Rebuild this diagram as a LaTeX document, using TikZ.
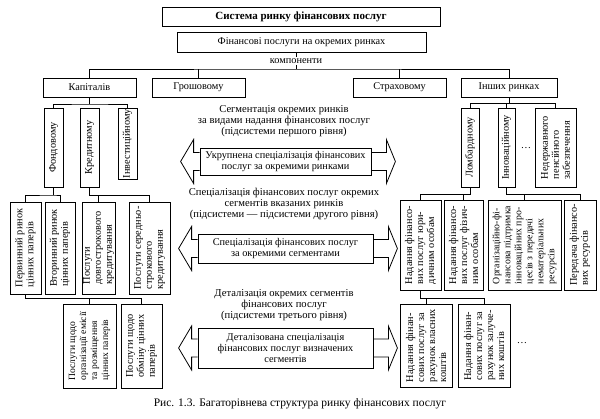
\documentclass[tikz,border=0pt]{standalone}
\usepackage{fontspec}
\setmainfont{Liberation Serif}

\begin{document}
\begin{tikzpicture}[x=1pt, y=-1pt, line width=0.8pt,
  every node/.style={font=\fontsize{10.3}{11}\selectfont},
  hbox/.style={draw, minimum height=19pt, inner sep=1pt},
  vbox/.style={draw, rotate=90, align=left, inner sep=1pt},
  note/.style={align=center, inner sep=1pt, font=\fontsize{10.6}{11}\selectfont}]
\useasboundingbox (0,0) rectangle (600,419);

% top of the structure
\node[hbox, minimum width=278pt, font=\bfseries\fontsize{11}{12}\selectfont] (sys) at (301,16.5) {Система ринку фінансових послуг};
\node[hbox, minimum width=249pt, minimum height=20pt] (fin) at (301.5,42) {Фінансові послуги на окремих ринках};
\node[inner sep=1pt] (comp) at (296,61) {компоненти};
\coordinate (bus1) at (296,69);
\draw (fin.south -| comp) -- (comp.north);
\draw (comp.south) -- (bus1);

% markets
\node[hbox, minimum width=93pt] (kap) at (89.5,87.5) {Капіталів};
\node[hbox, minimum width=93pt] (grosh) at (198.5,87.5) {Грошовому};
\node[hbox, minimum width=93pt] (strakh) at (399.5,87.5) {Страховому};
\node[hbox, minimum width=96pt] (inshi) at (509,87.5) {Інших ринках};
\draw (kap.north) |- (bus1) -| (inshi.north);
\draw (grosh.north) -- (grosh.north |- bus1);
\draw (strakh.north) -- (strakh.north |- bus1);

% first level, left
\node[vbox, minimum width=79pt, minimum height=19pt] (fond) at (53.5,147.5) {Фондовому};
\node[vbox, minimum width=79pt, minimum height=19pt] (kred) at (89.5,147.5) {Кредитному};
\node[vbox, minimum width=71pt, minimum height=19pt] (invest) at (127.5,143.5) {Інвестиційному};
\coordinate (bus2l) at (89.5,104);
\draw (kap.south) -- (bus2l);
\draw (fond.east) |- (bus2l) -| (invest.east);

% first level, right
\node[vbox, minimum width=79pt, minimum height=18pt] (lomb) at (470,147.5) {Ломбардному};
\node[vbox, minimum width=79pt, minimum height=17pt] (innov) at (506.5,147.5) {Інноваційному};
\node (dots1) at (526,148) {\dots};
\node[vbox, minimum width=79pt, minimum height=41pt] (nederzh) at (555.5,147.5) {Недержавного\\пенсійного\\забезпечення};
\coordinate (bus2r) at (509,103.5);
\draw (inshi.south) -- (bus2r);
\draw (lomb.east) |- (bus2r) -| (nederzh.east);
\draw (innov.east) -- (innov.east |- bus2r);

% second level, left
\node[vbox, minimum width=92pt, minimum height=31pt] (perv) at (25.5,248) {Первинний ринок\\цінних паперів};
\node[vbox, minimum width=92pt, minimum height=30pt] (vtor) at (60,248) {Вторинний ринок\\цінних паперів};
\node[vbox, minimum width=92pt, minimum height=31pt] (dovg) at (98.5,248) {Послуги\\довгострокового\\кредитування};
\node[vbox, minimum width=92pt, minimum height=41pt] (sered) at (149.5,248) {Послуги середньо-\\строкового\\кредитування};
\coordinate (bus3a) at (53.5,195);
\draw (fond.west) -- (bus3a);
\draw (perv.east) |- (bus3a) -| (vtor.east);
\coordinate (bus3b) at (89.5,195);
\draw (kred.west) -- (bus3b) -| (sered.east);
\draw (dovg.east) -- (dovg.east |- bus3b);

% second level, right
\node[vbox, minimum width=90pt, minimum height=41pt] (yur) at (420.5,245) {Надання фінансо-\\вих послуг юри-\\дичним особам};
\node[vbox, minimum width=90pt, minimum height=39pt] (fiz) at (463.5,245) {Надання фінансо-\\вих послуг фізич-\\ним особам};
\node[vbox, minimum width=90pt, minimum height=73pt, font=\fontsize{9.8}{11}\selectfont] (org) at (524.5,245) {Організаційно-фі-\\нансова підтримка\\інноваційних про-\\цесів з передачі\\нематеріальних\\ресурсів};
\node[vbox, minimum width=90pt, minimum height=32pt] (pered) at (580,245) {Передача фінансо-\\вих ресурсів};
\coordinate (bus3c) at (470,194);
\draw (lomb.west) -- (bus3c) -| (yur.east);
\draw (fiz.east) -- (fiz.east |- bus3c);
\coordinate (bus3d) at (506.5,194);
\draw (innov.west) -- (bus3d) -| (pered.east);
\draw (org.east) -- (org.east |- bus3d);

% third level
\node[vbox, minimum width=84pt, minimum height=53pt, font=\fontsize{9.6}{11}\selectfont] (emis) at (89.5,346) {Послуги щодо\\організації емісії\\та розміщення\\цінних паперів};
\node[vbox, minimum width=84pt, minimum height=41pt] (obmin) at (141.5,346) {Послуги щодо\\обміну цінних\\паперів};
\coordinate (bus4a) at (25.5,298);
\draw (perv.west) -- (bus4a) -| (obmin.east);
\draw (emis.east) -- (emis.east |- bus4a);

\node[vbox, minimum width=83pt, minimum height=52pt] (vlas) at (426,345.5) {Надання фінан-\\сових послуг за\\рахунок власних\\коштів};
\node[vbox, minimum width=83pt, minimum height=52pt] (zal) at (484,345.5) {Надання фінан-\\сових послуг за\\рахунок залуче-\\них коштів};
\node (dots2) at (522,343) {\dots};
\coordinate (bus4b) at (420.5,298);
\draw (yur.west) -- (bus4b) -| (zal.east);
\draw (vlas.east) -- (vlas.east |- bus4b);

% levels of specialisation in the middle
\node[note] (seg) at (284,121) {Сегментація окремих ринків\\за видами надання фінансових послуг\\(підсистеми першого рівня)};
\node[draw, align=center, minimum width=171pt, minimum height=27pt, inner sep=1pt] (ukr) at (285.5,161.5) {Укрупнена спеціалізація фінансових\\послуг за окремими ринками};
\node[note] (spec) at (284,204) {Спеціалізація фінансових послуг окремих\\сегментів вказаних ринків\\(підсистеми — підсистеми другого рівня)};
\node[draw, align=center, minimum width=175pt, minimum height=29pt, inner sep=1pt] (segm) at (285.5,248.5) {Спеціалізація фінансових послуг\\за окремими сегментами};
\node[note] (det) at (284,305) {Деталізація окремих сегментів\\фінансових послуг\\(підсистеми третього рівня)};
\node[draw, align=center, minimum width=175pt, minimum height=40pt, inner sep=1pt] (detal) at (285.5,348) {Деталізована спеціалізація\\фінансових послуг визначених\\сегментів};

\foreach \b in {ukr, segm, detal} {
  \draw[shift={(\b.west)}] (0,-9) -- (-6,-9) -- (-6,-22) -- (-19,0) -- (-6,22) -- (-6,9) -- (0,9);
  \draw[shift={(\b.east)}] (0,-9) -- (15,-9) -- (15,-22) -- (24,0) -- (15,22) -- (15,9) -- (0,9);
}

\node[font=\fontsize{11.5}{13}\selectfont] (cap) at (300,404) {Рис. 1.3. Багаторівнева структура ринку фінансових послуг};
\end{tikzpicture}
\end{document}
